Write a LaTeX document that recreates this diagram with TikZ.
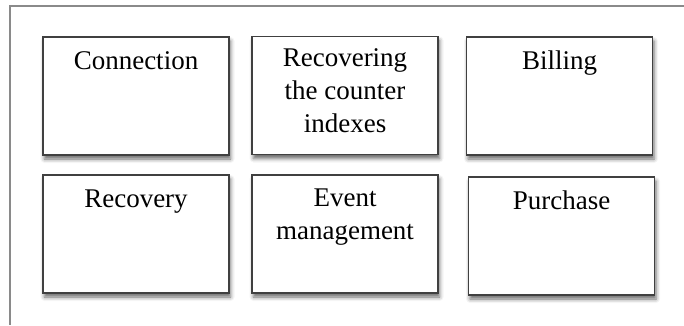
\documentclass[tikz,border=0pt]{standalone}
\usepackage{fontspec}
\setmainfont{Liberation Serif}
\usetikzlibrary{shadows.blur}
\definecolor{boxline}{HTML}{404040}
\definecolor{frameline}{HTML}{8A8A8A}
\begin{document}
\begin{tikzpicture}[x=1pt,y=-1pt,
  card/.style={draw=boxline, line width=1.8pt, fill=white,
    minimum width=186pt, minimum height=118pt, inner sep=0pt,
    blur shadow={shadow xshift=1.5pt, shadow yshift=-4pt,
      shadow blur radius=4pt, shadow opacity=60}},
  cardtext/.style={anchor=base, align=center, inner sep=0pt,
    font=\fontsize{27}{33}\selectfont, text=black}]
  \useasboundingbox (0,0) rectangle (684,325);
  % outer frame: top and left edges only
  \draw[frameline, line width=1.3pt] (684,6) -- (10,6) -- (10,325);
  % top row
  \node[card] (conn) at (136,96) {};
  \node[card] (rec)  at (345,95.5) {};
  \node[card] (bill) at (559.5,96) {};
  % bottom row
  \node[card] (recov) at (136,234) {};
  \node[card] (event) at (345,234) {};
  \node[card] (purch) at (561.5,236) {};
  % labels, hanging from the top of each card (base = last line)
  \node[cardtext] (tconn) at ([yshift=-33pt]conn.north) {Connection};
  \node[cardtext] (trec) at ([yshift=-97pt]rec.north) {Recovering\\the counter\\indexes};
  \node[cardtext] (tbill) at ([yshift=-33.5pt]bill.north) {Billing};
  \node[cardtext] (trecov) at ([yshift=-33pt]recov.north) {Recovery};
  \node[cardtext] (tevent) at ([yshift=-65.5pt]event.north) {Event\\management};
  \node[cardtext] (tpurch) at ([yshift=-33pt]purch.north) {Purchase};
\end{tikzpicture}
\end{document}
